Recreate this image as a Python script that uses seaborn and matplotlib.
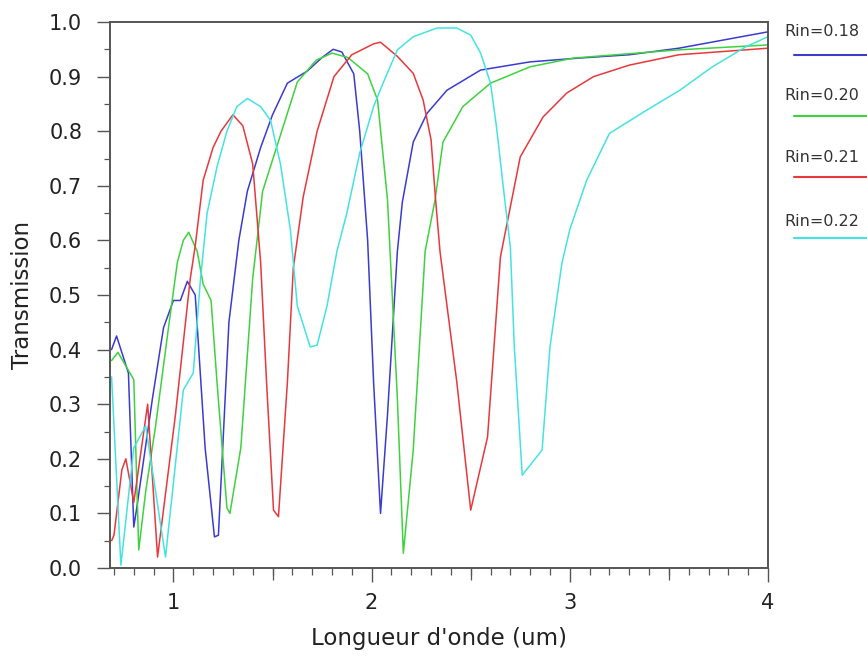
import matplotlib
matplotlib.use("Agg")
import matplotlib.pyplot as plt
from matplotlib.lines import Line2D
from matplotlib.ticker import MultipleLocator, FormatStrFormatter, NullFormatter
import pandas as pd
import seaborn as sns

# Transmission spectra for four inner radii
labels = ["Rin=0.18", "Rin=0.20", "Rin=0.21", "Rin=0.22"]
colors = ["#3b3bd0", "#3fd23f", "#e8383c", "#45e3e0"]

x18 = [0.688, 0.713, 0.773, 0.80, 0.815, 0.894, 0.95, 1.0, 1.035, 1.07,
       1.11, 1.16, 1.207, 1.227, 1.28, 1.33, 1.373, 1.44, 1.50, 1.575,
       1.675, 1.75, 1.806, 1.85, 1.91, 1.94, 1.98, 2.01, 2.045, 2.08,
       2.13, 2.155, 2.21, 2.28, 2.38, 2.55, 2.80, 3.05, 3.30, 3.55, 4.0]
y18 = [0.40, 0.425, 0.357, 0.075, 0.11, 0.31, 0.44, 0.49, 0.49, 0.525,
       0.50, 0.22, 0.057, 0.06, 0.45, 0.60, 0.69, 0.77, 0.83, 0.888,
       0.91, 0.935, 0.95, 0.945, 0.905, 0.80, 0.60, 0.34, 0.10, 0.28,
       0.58, 0.67, 0.78, 0.833, 0.875, 0.912, 0.927, 0.934, 0.94, 0.952, 0.982]

x20 = [0.688, 0.72, 0.80, 0.825, 0.86, 0.91, 0.975, 1.02, 1.05, 1.077,
       1.12, 1.15, 1.19, 1.22, 1.27, 1.285, 1.34, 1.40, 1.45, 1.52,
       1.625, 1.72, 1.80, 1.88, 1.98, 2.03, 2.08, 2.13, 2.16, 2.21,
       2.27, 2.32, 2.36, 2.46, 2.60, 2.80, 3.02, 3.55, 4.0]
y20 = [0.38, 0.395, 0.345, 0.033, 0.14, 0.26, 0.44, 0.56, 0.60, 0.615,
       0.58, 0.52, 0.49, 0.34, 0.11, 0.10, 0.22, 0.53, 0.69, 0.77,
       0.89, 0.93, 0.943, 0.935, 0.905, 0.857, 0.675, 0.31, 0.027, 0.216,
       0.58, 0.674, 0.78, 0.845, 0.888, 0.918, 0.934, 0.949, 0.958]

x21 = [0.688, 0.70, 0.74, 0.76, 0.80, 0.87, 0.92, 1.01, 1.085, 1.11,
       1.15, 1.20, 1.24, 1.30, 1.35, 1.40, 1.44, 1.47, 1.505, 1.53,
       1.575, 1.605, 1.655, 1.725, 1.81, 1.90, 2.01, 2.045, 2.13, 2.21,
       2.26, 2.30, 2.32, 2.345, 2.43, 2.50, 2.585, 2.65, 2.75, 2.865,
       2.985, 3.12, 3.30, 3.55, 4.0]
y21 = [0.05, 0.06, 0.18, 0.20, 0.12, 0.30, 0.02, 0.28, 0.53, 0.59,
       0.71, 0.77, 0.80, 0.83, 0.81, 0.74, 0.56, 0.34, 0.106, 0.094,
       0.34, 0.55, 0.68, 0.80, 0.90, 0.94, 0.96, 0.963, 0.937, 0.906,
       0.857, 0.784, 0.687, 0.58, 0.34, 0.106, 0.24, 0.57, 0.753, 0.826,
       0.87, 0.90, 0.921, 0.94, 0.952]

x22 = [0.688, 0.735, 0.80, 0.86, 0.96, 1.05, 1.10, 1.136, 1.17, 1.22,
       1.27, 1.32, 1.373, 1.44, 1.49, 1.54, 1.59, 1.625, 1.69, 1.725,
       1.775, 1.825, 1.875, 1.94, 2.01, 2.06, 2.13, 2.21, 2.33, 2.43,
       2.50, 2.55, 2.60, 2.63, 2.67, 2.70, 2.72, 2.76, 2.86, 2.90,
       2.96, 3.00, 3.085, 3.20, 3.39, 3.555, 3.72, 3.89, 4.0]
y22 = [0.35, 0.005, 0.22, 0.26, 0.02, 0.326, 0.357, 0.527, 0.65, 0.735,
       0.80, 0.845, 0.86, 0.845, 0.82, 0.74, 0.62, 0.48, 0.405, 0.408,
       0.48, 0.58, 0.65, 0.76, 0.845, 0.89, 0.949, 0.973, 0.989, 0.989,
       0.976, 0.943, 0.888, 0.808, 0.68, 0.588, 0.405, 0.17, 0.216, 0.405,
       0.558, 0.62, 0.71, 0.796, 0.839, 0.875, 0.918, 0.955, 0.973]

xs = [x18, x20, x21, x22]
ys = [y18, y20, y21, y22]

frames = []
for lab, xv, yv in zip(labels, xs, ys):
    frames.append(pd.DataFrame({"wl": xv, "T": yv, "series": lab}))
df = pd.concat(frames, ignore_index=True)

sns.set_style("ticks")
plt.rcParams["font.family"] = ["DejaVu Sans"]

W, H = 867, 657
fig = plt.figure(figsize=(W / 100, H / 100), dpi=100)
ax = fig.add_axes([110 / W, 1 - 568 / H, (768 - 110) / W, (568 - 22) / H])

sns.lineplot(data=df, x="wl", y="T", hue="series", hue_order=labels,
             palette=dict(zip(labels, colors)), estimator=None, sort=False,
             linewidth=1.1, legend=False, ax=ax)

ax.set_xlim(0.68, 4.0)
ax.set_ylim(0.0, 1.0)
ax.xaxis.set_major_locator(MultipleLocator(1.0))
ax.xaxis.set_minor_locator(MultipleLocator(0.1))
ax.yaxis.set_major_locator(MultipleLocator(0.1))
ax.yaxis.set_minor_locator(MultipleLocator(0.05))
ax.yaxis.set_major_formatter(FormatStrFormatter("%.1f"))
ax.xaxis.set_major_formatter(FormatStrFormatter("%d"))

tick_col = "#555555"
text_col = "#222222"
ax.tick_params(axis="y", which="major", direction="out", length=9.5,
               width=1.0, color=tick_col, labelsize=15, labelcolor=text_col,
               pad=10.5)
ax.tick_params(axis="y", which="minor", direction="out", length=4,
               width=0.9, color=tick_col)
ax.tick_params(axis="x", which="major", direction="out", length=10,
               width=1.0, color=tick_col, labelsize=15, labelcolor=text_col,
               pad=8)
ax.tick_params(axis="x", which="minor", direction="out", length=5,
               width=0.9, color=tick_col)

# Half-unit ticks on the wavelength axis, a little longer than the tenths
mid = ax.secondary_xaxis("bottom")
mid.set_xticks([1.5, 2.5, 3.5])
mid.xaxis.set_major_formatter(NullFormatter())
mid.tick_params(axis="x", which="major", direction="out", length=8.5,
                width=0.9, color=tick_col)
mid.tick_params(axis="x", which="minor", length=0)
mid.spines["bottom"].set_visible(False)

for side in ["left", "right", "top", "bottom"]:
    ax.spines[side].set_visible(True)
    ax.spines[side].set_color("#555555")
    ax.spines[side].set_linewidth(1.4)

ax.set_xlabel("Longueur d'onde (um)", fontsize=16.5, color=text_col,
              labelpad=10)
ax.set_ylabel("Transmission", fontsize=16.5, color=text_col, labelpad=11)

# Legend: label text with a line sample underneath, stacked at the right
for i, (lab, col) in enumerate(zip(labels, colors)):
    ty = 32 + 63 * i
    ly = 55 + 61 * i
    fig.text(784 / W, 1 - ty / H, lab, fontsize=11.5, color="#333333",
             ha="left", va="center")
    fig.add_artist(Line2D([794 / W, 1.0], [1 - ly / H, 1 - ly / H],
                          color=col, linewidth=1.5, transform=fig.transFigure))

fig.savefig("out.png", dpi=100)
